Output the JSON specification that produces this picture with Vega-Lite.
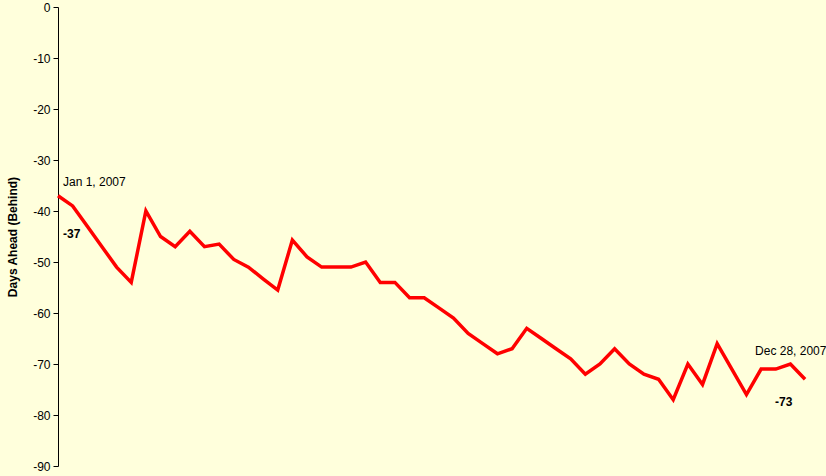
{
  "$schema": "https://vega.github.io/schema/vega-lite/v6.json",
  "width": 768,
  "height": 459,
  "autosize": {"type": "none"},
  "padding": {"left": 58, "top": 7, "right": 0, "bottom": 10},
  "background": "#FFFFDC",
  "config": {
    "view": {"stroke": null},
    "font": "Liberation Sans",
    "axis": {"labelFont": "Liberation Sans", "titleFont": "Liberation Sans"}
  },
  "datasets": {
    "series": [
      {"week": 0, "days": -37}, {"week": 1, "days": -39}, {"week": 2, "days": -43}, {"week": 3, "days": -47},
      {"week": 4, "days": -51}, {"week": 5, "days": -54}, {"week": 6, "days": -40}, {"week": 7, "days": -45},
      {"week": 8, "days": -47}, {"week": 9, "days": -44}, {"week": 10, "days": -47}, {"week": 11, "days": -46.5},
      {"week": 12, "days": -49.5}, {"week": 13, "days": -51}, {"week": 14, "days": -53.3}, {"week": 15, "days": -55.5},
      {"week": 16, "days": -45.7}, {"week": 17, "days": -49}, {"week": 18, "days": -51}, {"week": 19, "days": -51},
      {"week": 20, "days": -51}, {"week": 21, "days": -50}, {"week": 22, "days": -54}, {"week": 23, "days": -54},
      {"week": 24, "days": -57}, {"week": 25, "days": -57}, {"week": 26, "days": -59}, {"week": 27, "days": -61},
      {"week": 28, "days": -64}, {"week": 29, "days": -66}, {"week": 30, "days": -68}, {"week": 31, "days": -67},
      {"week": 32, "days": -63}, {"week": 33, "days": -65}, {"week": 34, "days": -67}, {"week": 35, "days": -69},
      {"week": 36, "days": -72}, {"week": 37, "days": -70}, {"week": 38, "days": -67}, {"week": 39, "days": -70},
      {"week": 40, "days": -72}, {"week": 41, "days": -73}, {"week": 42, "days": -77}, {"week": 43, "days": -70},
      {"week": 44, "days": -74}, {"week": 45, "days": -66}, {"week": 46, "days": -71}, {"week": 47, "days": -76},
      {"week": 48, "days": -71}, {"week": 49, "days": -71}, {"week": 50, "days": -70}, {"week": 51, "days": -73}
    ],
    "labels": [
      {"week": 0, "days": -37, "date": "Jan 1, 2007", "value": "-37", "end": "start"},
      {"week": 51, "days": -73, "date": "Dec 28, 2007", "value": "-73", "end": "finish"}
    ]
  },
  "layer": [
    {
      "data": {"name": "series"},
      "mark": {"type": "line", "color": "#FF0000", "strokeWidth": 3.5, "strokeJoin": "miter", "clip": false},
      "encoding": {
        "x": {"field": "week", "type": "quantitative", "scale": {"domain": [0, 52.43], "nice": false, "zero": false}, "axis": null},
        "y": {
          "field": "days", "type": "quantitative",
          "scale": {"domain": [-90, 0], "nice": false},
          "axis": {
            "title": "Days Ahead (Behind)", "titleFontWeight": "bold", "titleFontSize": 12, "titleColor": "#000",
            "titlePadding": 13,
            "values": [0, -10, -20, -30, -40, -50, -60, -70, -80, -90],
            "labelExpr": "'' + datum.value",
            "labelFontSize": 12, "labelColor": "#000", "labelPadding": 3,
            "tickSize": 5, "tickColor": "#000", "domainColor": "#000", "grid": false
          }
        }
      }
    },
    {
      "data": {"name": "labels"},
      "transform": [{"filter": "datum.end == 'start'"}],
      "layer": [
        {"mark": {"type": "text", "align": "left", "baseline": "middle", "dx": 5, "dy": -14, "fontSize": 12, "color": "#000"},
         "encoding": {"x": {"field": "week", "type": "quantitative"}, "y": {"field": "days", "type": "quantitative"}, "text": {"field": "date"}}},
        {"mark": {"type": "text", "align": "left", "baseline": "middle", "dx": 5, "dy": 38, "fontSize": 12, "fontWeight": "bold", "color": "#000"},
         "encoding": {"x": {"field": "week", "type": "quantitative"}, "y": {"field": "days", "type": "quantitative"}, "text": {"field": "value"}}}
      ]
    },
    {
      "data": {"name": "labels"},
      "transform": [{"filter": "datum.end == 'finish'"}],
      "layer": [
        {"mark": {"type": "text", "align": "left", "baseline": "middle", "dx": -50, "dy": -28, "fontSize": 12, "color": "#000", "clip": false},
         "encoding": {"x": {"field": "week", "type": "quantitative"}, "y": {"field": "days", "type": "quantitative"}, "text": {"field": "date"}}},
        {"mark": {"type": "text", "align": "left", "baseline": "middle", "dx": -30, "dy": 23, "fontSize": 12, "fontWeight": "bold", "color": "#000"},
         "encoding": {"x": {"field": "week", "type": "quantitative"}, "y": {"field": "days", "type": "quantitative"}, "text": {"field": "value"}}}
      ]
    }
  ]
}
